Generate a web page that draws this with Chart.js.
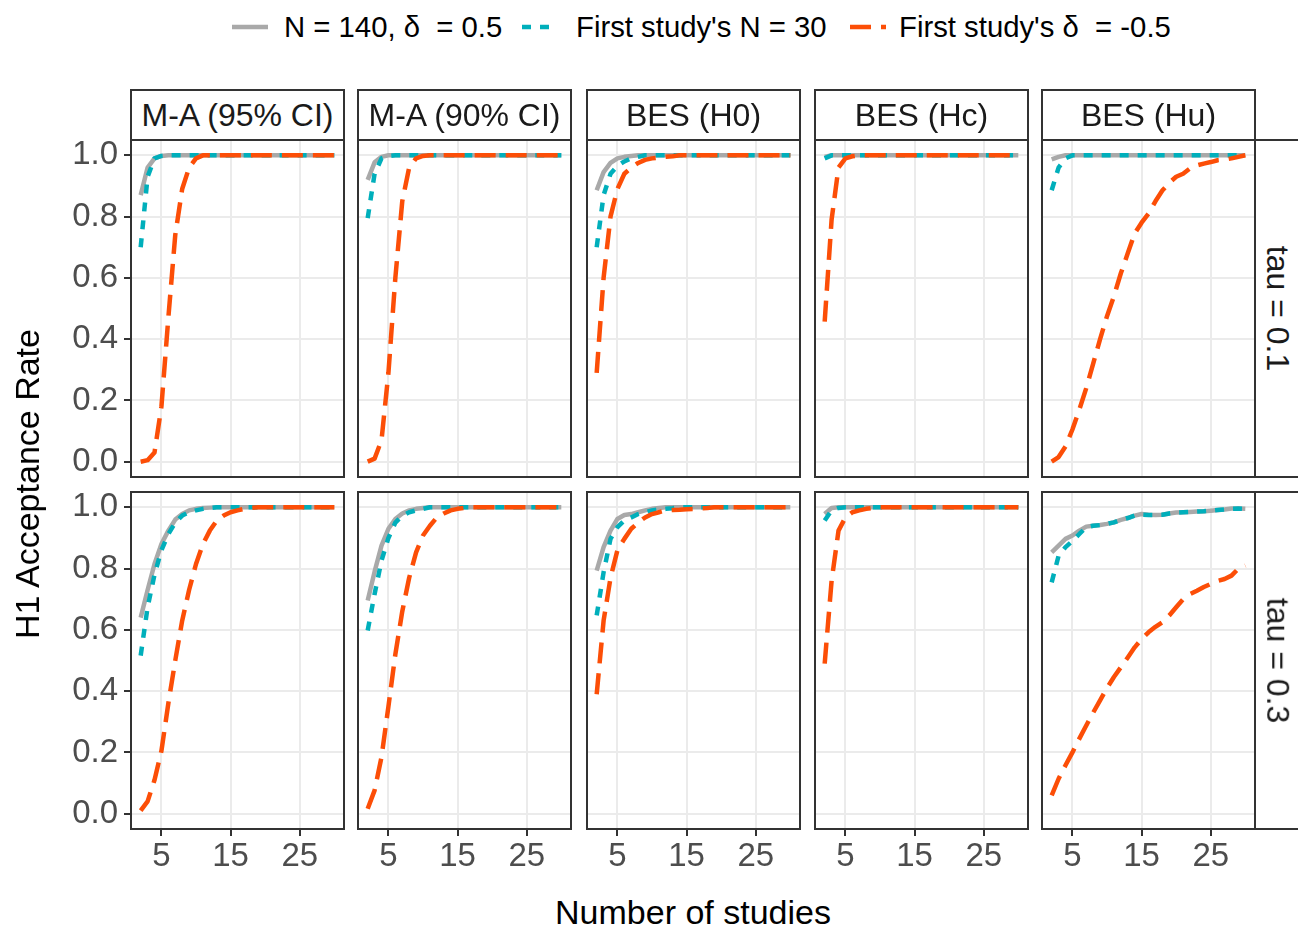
<!DOCTYPE html>
<html><head><meta charset="utf-8">
<script src="https://cdn.jsdelivr.net/npm/chart.js"></script>
<style>
html,body{margin:0;padding:0;background:#fff;}
#wrap{position:relative;width:1298px;height:925px;overflow:hidden;background:#fff;font-family:'Liberation Sans',Arial,Helvetica,sans-serif;}
canvas.panel{position:absolute;}
.txt{position:absolute;white-space:pre;line-height:1;}
.strip{position:absolute;box-sizing:border-box;border:2px solid #333333;background:#fff;display:flex;align-items:center;justify-content:center;font-size:32px;color:#1a1a1a;white-space:pre;}
</style></head>
<body><div id="wrap"></div>
<script>
// ---------------- DATA ----------------
const studies = [2,3,4,5,6,7,8,9,10,11,12,13,14,15,16,17,18,19,20,21,22,23,24,25,26,27,28,29,30];
const colLabels = ['M-A (95% CI)','M-A (90% CI)','BES (H0)','BES (Hc)','BES (Hu)'];
const rowLabels = ['tau = 0.1','tau = 0.3'];
const seriesNames = ['N = 140, \u03b4  = 0.5', "First study's N = 30", "First study's \u03b4  = -0.5"];
const xTickValues = [5,15,25];
const yTickValues = [0,0.2,0.4,0.6,0.8,1.0];

// tau = 0.1
const ma95_t1_gray   = [0.87,0.96,0.99,0.998,1,1,1,1,1,1,1,1,1,1,1,1,1,1,1,1,1,1,1,1,1,1,1,1,1];
const ma95_t1_cyan   = [0.70,0.93,0.99,0.998,1,1,1,1,1,1,1,1,1,1,1,1,1,1,1,1,1,1,1,1,1,1,1,1,1];
const ma95_t1_orange = [0,0.005,0.03,0.18,0.47,0.74,0.89,0.96,0.99,1,1,1,1,1,1,1,1,1,1,1,1,1,1,1,1,1,1,1,1];

const ma90_t1_gray   = [0.92,0.977,0.995,1,1,1,1,1,1,1,1,1,1,1,1,1,1,1,1,1,1,1,1,1,1,1,1,1,1];
const ma90_t1_cyan   = [0.795,0.94,0.99,0.998,1,1,1,1,1,1,1,1,1,1,1,1,1,1,1,1,1,1,1,1,1,1,1,1,1];
const ma90_t1_orange = [0,0.01,0.07,0.29,0.60,0.85,0.96,0.99,0.998,1,1,1,1,1,1,1,1,1,1,1,1,1,1,1,1,1,1,1,1];

const bes0_t1_gray   = [0.886,0.945,0.975,0.99,0.995,0.998,1,1,1,1,1,1,1,1,1,1,1,1,1,1,1,1,1,1,1,1,1,1,1];
const bes0_t1_cyan   = [0.70,0.87,0.94,0.965,0.98,0.99,0.995,1,1,1,1,1,1,1,1,1,1,1,1,1,1,1,1,1,1,1,1,1,1];
const bes0_t1_orange = [0.29,0.60,0.80,0.89,0.94,0.96,0.975,0.985,0.99,0.993,0.995,0.997,1,1,1,1,1,1,1,1,1,1,1,1,1,1,1,1,1];

const besc_t1_gray   = [0.995,1,1,1,1,1,1,1,1,1,1,1,1,1,1,1,1,1,1,1,1,1,1,1,1,1,1,1,1];
const besc_t1_cyan   = [0.99,1,1,1,1,1,1,1,1,1,1,1,1,1,1,1,1,1,1,1,1,1,1,1,1,1,1,1,1];
const besc_t1_orange = [0.457,0.79,0.96,0.99,0.997,1,1,1,1,1,1,1,1,1,1,1,1,1,1,1,1,1,1,1,1,1,1,1,1];

const besu_t1_gray   = [0.987,0.995,1,1,1,1,1,1,1,1,1,1,1,1,1,1,1,1,1,1,1,1,1,1,1,1,1,1,1];
const besu_t1_cyan   = [0.886,0.96,0.99,1,1,1,1,1,1,1,1,1,1,1,1,1,1,1,1,1,1,1,1,1,1,1,1,1,1];
const besu_t1_orange = [0,0.015,0.05,0.105,0.17,0.24,0.32,0.40,0.475,0.54,0.615,0.68,0.745,0.78,0.81,0.85,0.885,0.91,0.93,0.94,0.957,0.967,0.973,0.978,0.984,0.986,0.99,0.995,1.0];

// tau = 0.3
const ma95_t3_gray   = [0.64,0.73,0.815,0.88,0.924,0.96,0.978,0.99,0.995,0.998,0.999,1,1,1,1,1,1,1,1,1,1,1,1,1,1,1,1,1,1];
const ma95_t3_cyan   = [0.516,0.674,0.78,0.86,0.913,0.95,0.973,0.984,0.99,0.995,0.998,1,1,1,1,1,1,1,1,1,1,1,1,1,1,1,1,1,1];
const ma95_t3_orange = [0.01,0.04,0.11,0.205,0.36,0.50,0.63,0.73,0.815,0.88,0.924,0.957,0.973,0.984,0.99,0.995,0.998,1,1,1,1,1,1,1,1,1,1,1,1];

const ma90_t3_gray   = [0.696,0.79,0.875,0.93,0.962,0.98,0.99,0.995,0.998,1,1,1,1,1,1,1,1,1,1,1,1,1,1,1,1,1,1,1,1];
const ma90_t3_cyan   = [0.598,0.717,0.826,0.90,0.95,0.973,0.984,0.99,0.995,1,1,1,1,1,1,1,1,1,1,1,1,1,1,1,1,1,1,1,1];
const ma90_t3_orange = [0.016,0.076,0.185,0.35,0.52,0.66,0.77,0.853,0.908,0.94,0.967,0.98,0.99,0.995,0.998,1,1,1,1,1,1,1,1,1,1,1,1,1,1];

const bes0_t3_gray   = [0.793,0.87,0.924,0.962,0.975,0.978,0.984,0.99,0.995,0.998,1,1,1,1,1,1,1,1,1,1,1,1,1,1,1,1,1,1,1];
const bes0_t3_cyan   = [0.647,0.788,0.897,0.935,0.957,0.967,0.978,0.984,0.99,0.993,0.995,0.997,1,1,1,1,1,1,1,1,1,1,1,1,1,1,1,1,1];
const bes0_t3_orange = [0.39,0.63,0.77,0.86,0.897,0.93,0.95,0.967,0.978,0.984,0.99,0.991,0.992,0.994,0.995,0.997,0.998,1,1,1,1,1,1,1,1,1,1,1,1];

const besc_t3_gray   = [0.978,0.998,1,1,1,1,1,1,1,1,1,1,1,1,1,1,1,1,1,1,1,1,1,1,1,1,1,1,1];
const besc_t3_cyan   = [0.957,0.99,0.998,1,1,1,1,1,1,1,1,1,1,1,1,1,1,1,1,1,1,1,1,1,1,1,1,1,1];
const besc_t3_orange = [0.49,0.76,0.924,0.967,0.984,0.99,0.995,0.998,1,1,1,1,1,1,1,1,1,1,1,1,1,1,1,1,1,1,1,1,1];

const besu_t3_gray   = [0.853,0.875,0.897,0.908,0.924,0.937,0.94,0.942,0.946,0.951,0.959,0.965,0.973,0.978,0.976,0.975,0.976,0.98,0.983,0.984,0.985,0.986,0.987,0.989,0.991,0.993,0.996,0.996,0.995];
const besu_t3_cyan   = [0.755,0.842,0.87,0.89,0.913,0.935,0.94,0.942,0.946,0.951,0.959,0.965,0.973,0.976,0.975,0.975,0.976,0.98,0.983,0.984,0.985,0.986,0.987,0.989,0.991,0.993,0.995,0.996,0.995];
const besu_t3_orange = [0.06,0.114,0.158,0.20,0.245,0.288,0.33,0.37,0.41,0.446,0.478,0.51,0.543,0.57,0.592,0.61,0.625,0.647,0.674,0.70,0.717,0.728,0.74,0.75,0.76,0.766,0.777,0.80,0.81];

const panelSeries = [
  [[ma95_t1_gray,ma95_t1_cyan,ma95_t1_orange],[ma90_t1_gray,ma90_t1_cyan,ma90_t1_orange],[bes0_t1_gray,bes0_t1_cyan,bes0_t1_orange],[besc_t1_gray,besc_t1_cyan,besc_t1_orange],[besu_t1_gray,besu_t1_cyan,besu_t1_orange]],
  [[ma95_t3_gray,ma95_t3_cyan,ma95_t3_orange],[ma90_t3_gray,ma90_t3_cyan,ma90_t3_orange],[bes0_t3_gray,bes0_t3_cyan,bes0_t3_orange],[besc_t3_gray,besc_t3_cyan,besc_t3_orange],[besu_t3_gray,besu_t3_cyan,besu_t3_orange]]
];

// ---------------- STYLE / LAYOUT ----------------
const FONT = "'Liberation Sans', Arial, Helvetica, sans-serif";
const COLORS = ['#A9A9A9','#00AFBB','#FC4E07'];
const DASHES = [[],[9,9],[21,10]];
const LINE_W = 4.5;
const TICK_SIZE = 33;
const PX = [131,358,587,815,1042];
const PY = [140,492];
const PW = 213, PH = 337;
const wrap = document.getElementById('wrap');

const borderPlugin = {
  id:'panelBorder',
  afterDraw(chart){
    const {ctx, chartArea:a} = chart;
    ctx.save();
    ctx.strokeStyle = '#333333';
    ctx.lineWidth = 2;
    ctx.strokeRect(a.left, a.top, a.right-a.left, a.bottom-a.top);
    ctx.restore();
  }
};

function addText(txt, x, y, size, color, extra){
  const d = document.createElement('div');
  d.className = 'txt';
  d.textContent = txt;
  d.style.left = x+'px'; d.style.top = y+'px';
  d.style.fontSize = size+'px'; d.style.color = color;
  d.style.transform = 'translate(' + (extra && extra.alignLeft ? '0' : '-50%') + ',-50%)' + (extra && extra.rot ? ' rotate('+extra.rot+'deg)' : '');
  wrap.appendChild(d);
  return d;
}

function makePanel(r, c){
  const isLeft = c===0, isBottom = r===1;
  const PAD = 4;
  const L = isLeft ? 131 : 0;
  const B = isBottom ? 60 : 0;
  const padL = isLeft ? 0 : PAD;
  const padB = isBottom ? 0 : PAD;
  const cw = padL + L + PW + PAD;
  const ch = PAD + PH + B + padB;
  const cv = document.createElement('canvas');
  cv.className = 'panel';
  cv.width = cw; cv.height = ch;
  cv.style.width = cw+'px'; cv.style.height = ch+'px';
  cv.style.left = (PX[c] - L - padL)+'px';
  cv.style.top = (PY[r] - PAD)+'px';
  wrap.appendChild(cv);
  const ser = panelSeries[r][c];
  const datasets = ser.map((arr,k)=>({
    label: seriesNames[k],
    data: studies.map((x,i)=>({x:x, y:arr[i]})),
    borderColor: COLORS[k],
    borderWidth: LINE_W,
    borderDash: DASHES[k],
    borderCapStyle:'butt',
    borderJoinStyle:'round',
    pointRadius:0,
    tension:0,
    fill:false,
    order: 3-k
  }));
  new Chart(cv, {
    type:'line',
    data:{datasets},
    plugins:[borderPlugin],
    options:{
      responsive:false, animation:false, devicePixelRatio:1,
      layout:{padding:{left:padL, right:PAD, top:PAD, bottom:padB}},
      plugins:{legend:{display:false}, tooltip:{enabled:false}},
      scales:{
        x:{
          type:'linear', position:'bottom', min:0.6, max:31.4,
          afterBuildTicks: s => { s.ticks = xTickValues.map(v=>({value:v})); },
          afterFit: s => { s.height = B; s.paddingLeft = 0; s.paddingRight = 0; },
          grid:{color:'#EBEBEB', lineWidth:2, drawTicks:isBottom, tickLength:7, tickColor:'#333333', tickWidth:2},
          border:{display:false},
          ticks:{display:isBottom, color:'#4D4D4D', font:{family:FONT, size:TICK_SIZE}, padding:1, maxRotation:0, autoSkip:false, callback:v=>String(v)}
        },
        y:{
          type:'linear', position:'left', min:-0.05, max:1.05,
          afterBuildTicks: s => { s.ticks = yTickValues.map(v=>({value:v})); },
          afterFit: s => { s.width = L; s.paddingTop = 0; s.paddingBottom = 0; },
          grid:{color:'#EBEBEB', lineWidth:2, drawTicks:isLeft, tickLength:7, tickColor:'#333333', tickWidth:2},
          border:{display:false},
          ticks:{display:isLeft, color:'#4D4D4D', font:{family:FONT, size:TICK_SIZE}, padding:6, autoSkip:false, callback:v=>Number(v).toFixed(1)}
        }
      }
    }
  });
}

for (let r=0;r<2;r++) for (let c=0;c<5;c++) makePanel(r,c);

// strips (top)
colLabels.forEach((t,c)=>{
  const d = document.createElement('div');
  d.className = 'strip';
  d.style.left = (PX[c]-1)+'px'; d.style.top = '89px';
  d.style.width = (PW+2)+'px'; d.style.height = '52px';
  d.textContent = t;
  wrap.appendChild(d);
});
// strips (right)
rowLabels.forEach((t,r)=>{
  const d = document.createElement('div');
  d.className = 'strip';
  d.style.left = (PX[4]+PW-1)+'px'; d.style.top = (PY[r]-1)+'px';
  d.style.width = '80px'; d.style.height = (PH+2)+'px';
  const s = document.createElement('span');
  s.textContent = t;
  s.style.display = 'inline-block';
  s.style.transform = 'translateX(-16px) rotate(90deg)';
  d.appendChild(s);
  wrap.appendChild(d);
});

// axis titles
addText('Number of studies', 693, 912, 34, '#000');
addText('H1 Acceptance Rate', 27, 484, 34, '#000', {rot:-90});

// legend
const legendKeys = [232, 522, 850];
const legendTexts = [284, 576, 899];
seriesNames.forEach((n,k)=>{
  const kc = document.createElement('canvas');
  kc.width = 36; kc.height = 12;
  kc.style.position = 'absolute';
  kc.style.left = legendKeys[k]+'px'; kc.style.top = '21px';
  wrap.appendChild(kc);
  const g = kc.getContext('2d');
  g.strokeStyle = COLORS[k]; g.lineWidth = LINE_W; g.lineCap = 'butt';
  g.setLineDash(DASHES[k]);
  g.beginPath(); g.moveTo(0,6); g.lineTo(36,6); g.stroke();
  addText(n, legendTexts[k], 27, 29.3, '#000', {alignLeft:true});
});
</script></body></html>
